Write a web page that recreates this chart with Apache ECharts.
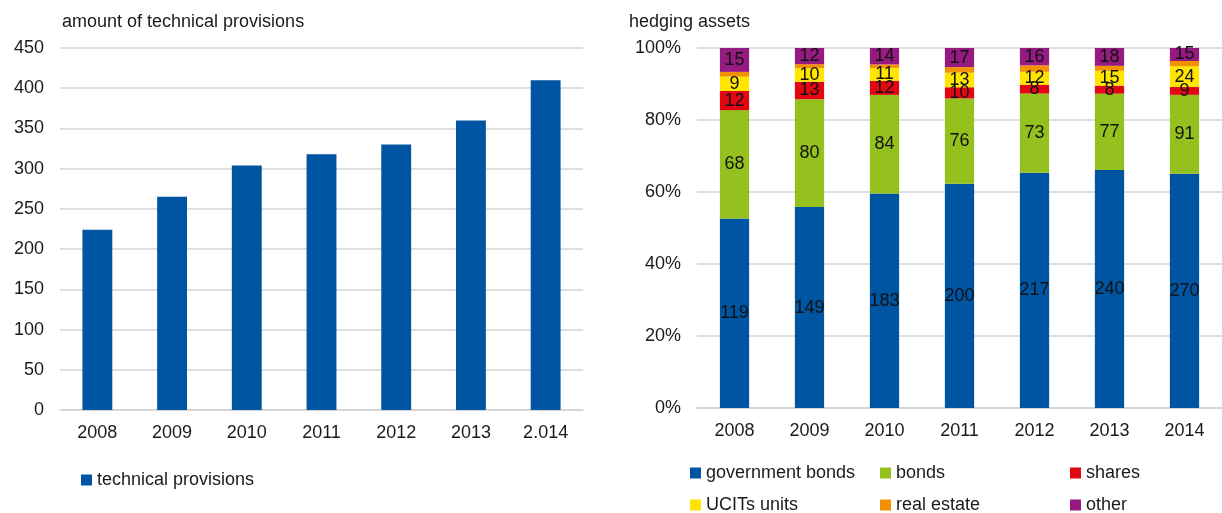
<!DOCTYPE html>
<html>
<head>
<meta charset="utf-8">
<script src="https://cdn.jsdelivr.net/npm/echarts@6/dist/echarts.min.js"></script>
<style>
  html, body { margin: 0; padding: 0; background: #fff; }
  #chart { width: 1222px; height: 513px; }
</style>
</head>
<body>
<div id="chart"></div>
<script>
// Technical provisions (left panel)
const provisionYears = ['2008', '2009', '2010', '2011', '2012', '2013', '2.014'];
const technicalProvisions = [224, 265, 304, 318, 330, 360, 410];

// Hedging assets by type (right panel)
const assetYears = ['2008', '2009', '2010', '2011', '2012', '2013', '2014'];
const governmentBonds = [119, 149, 183, 200, 217, 240, 270];
const bonds = [68, 80, 84, 76, 73, 77, 91];
const shares = [12, 13, 12, 10, 8, 8, 9];
const ucitsUnits = [9, 10, 11, 13, 12, 15, 24];
const realEstate = [3, 3, 3, 5, 6, 5, 6];
const other = [15, 12, 14, 17, 16, 18, 15];

const assetSeries = [
  { name: 'government bonds', values: governmentBonds, color: '#0055A2', label: true },
  { name: 'bonds', values: bonds, color: '#95C11F', label: true },
  { name: 'shares', values: shares, color: '#E30613', label: true },
  { name: 'UCITs units', values: ucitsUnits, color: '#FFE500', label: true },
  { name: 'real estate', values: realEstate, color: '#F39200', label: false },
  { name: 'other', values: other, color: '#951B81', label: true }
];

// yearly totals, used to express every segment as a share of 100%
const totals = assetYears.map((_, i) =>
  assetSeries.reduce((sum, s) => sum + s.values[i], 0));

const FONT = '"Liberation Sans", Arial, sans-serif';
const TEXT = '#1a1a1a';
const GRID_LINE = '#d4d4d4';

const chart = echarts.init(document.getElementById('chart'), null, { renderer: 'canvas' });

const axisCommon = {
  axisTick: { show: false },
  axisLine: { show: true, lineStyle: { color: GRID_LINE, width: 1.5 } },
  axisLabel: { color: TEXT, fontSize: 18, fontFamily: FONT, margin: 14 }
};

// one legend entry placed at a fixed spot
function legendItem(name, left, top) {
  return {
    left: left, top: top, padding: 0, itemWidth: 11, itemHeight: 11, icon: 'rect',
    data: [name],
    textStyle: { color: TEXT, fontSize: 18, fontFamily: FONT, lineHeight: 20 }
  };
}

const option = {
  animation: false,
  backgroundColor: '#ffffff',
  textStyle: { fontFamily: FONT },
  title: [
    { text: 'amount of technical provisions', left: 62, top: 13, padding: 0,
      textStyle: { fontSize: 18, fontWeight: 'normal', color: TEXT, fontFamily: FONT } },
    { text: 'hedging assets', left: 629, top: 13, padding: 0,
      textStyle: { fontSize: 18, fontWeight: 'normal', color: TEXT, fontFamily: FONT } }
  ],
  grid: [
    { left: 60, right: 639, top: 48, bottom: 103 },
    { left: 697, right: -2, top: 48, bottom: 105 }
  ],
  xAxis: [
    Object.assign({ type: 'category', gridIndex: 0, data: provisionYears }, axisCommon),
    Object.assign({ type: 'category', gridIndex: 1, data: assetYears }, axisCommon)
  ],
  yAxis: [
    {
      type: 'value', gridIndex: 0, min: 0, max: 450, interval: 50,
      axisLine: { show: false }, axisTick: { show: false },
      splitLine: { lineStyle: { color: GRID_LINE, width: 1.5 } },
      axisLabel: { color: TEXT, fontSize: 18, fontFamily: FONT, margin: 16 }
    },
    {
      type: 'value', gridIndex: 1, min: 0, max: 100, interval: 20,
      axisLine: { show: false }, axisTick: { show: false },
      splitLine: { lineStyle: { color: GRID_LINE, width: 1.5 } },
      axisLabel: { color: TEXT, fontSize: 18, fontFamily: FONT, margin: 16, formatter: '{value}%' }
    }
  ],
  legend: [
    legendItem('technical provisions', 81, 470),
    legendItem('government bonds', 690, 463),
    legendItem('bonds', 880, 463),
    legendItem('shares', 1070, 463),
    legendItem('UCITs units', 690, 495),
    legendItem('real estate', 880, 495),
    legendItem('other', 1070, 495)
  ],
  series: [
    {
      name: 'technical provisions', type: 'bar', xAxisIndex: 0, yAxisIndex: 0,
      data: technicalProvisions, barWidth: '40%',
      itemStyle: { color: '#0055A2' }
    }
  ].concat(assetSeries.map(s => ({
    name: s.name, type: 'bar', xAxisIndex: 1, yAxisIndex: 1, stack: 'assets',
    barWidth: '39%',
    itemStyle: { color: s.color },
    data: s.values.map((v, i) => v / totals[i] * 100),
    label: {
      show: s.label, position: 'inside', color: '#111', fontSize: 18, fontFamily: FONT,
      formatter: p => String(s.values[p.dataIndex])
    }
  })))
};

chart.setOption(option);
</script>
</body>
</html>
